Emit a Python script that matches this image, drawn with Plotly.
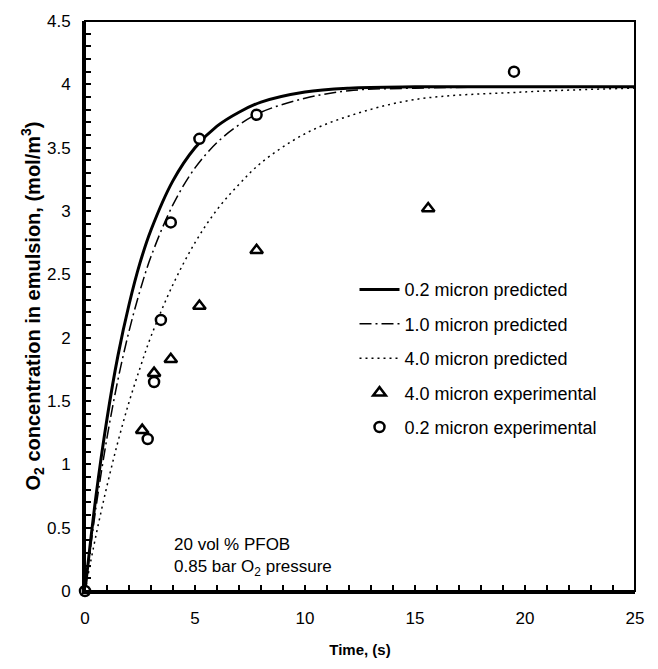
import plotly.graph_objects as go

# Time grid for model curves (s)
t_model = [0, 0.5, 1, 1.5, 2, 2.5, 3, 4, 5, 6, 7, 8, 10, 12, 15, 20, 25]
pred_02 = [0, 0.75, 1.36, 1.86, 2.26, 2.59, 2.85, 3.24, 3.50, 3.67, 3.78, 3.86, 3.94, 3.97, 3.98, 3.98, 3.98]
pred_10 = [0, 0.66, 1.21, 1.67, 2.05, 2.37, 2.64, 3.05, 3.34, 3.54, 3.68, 3.78, 3.89, 3.95, 3.97, 3.98, 3.98]
pred_40 = [0, 0.44, 0.83, 1.18, 1.49, 1.76, 2.01, 2.42, 2.75, 3.01, 3.21, 3.38, 3.61, 3.75, 3.88, 3.94, 3.97]

# Experimental data
t_exp40 = [2.6, 3.14, 3.9, 5.2, 7.8, 15.6]
c_exp40 = [1.27, 1.72, 1.83, 2.25, 2.69, 3.02]
t_exp02 = [0, 2.85, 3.14, 3.45, 3.9, 5.2, 7.8, 19.5]
c_exp02 = [0, 1.20, 1.65, 2.14, 2.91, 3.57, 3.76, 4.10]

FONT = "Arial, Liberation Sans, sans-serif"

fig = go.Figure()
fig.add_trace(go.Scatter(x=t_model, y=pred_02, mode="lines", name="0.2 micron predicted",
                         line=dict(color="black", width=3, shape="spline"), legendgroup="a"))
fig.add_trace(go.Scatter(x=t_model, y=pred_10, mode="lines", name="1.0 micron predicted",
                         line=dict(color="black", width=1.5, dash="12px,4px,2px,4px", shape="spline"), legendgroup="b"))
fig.add_trace(go.Scatter(x=t_model, y=pred_40, mode="lines", name="4.0 micron predicted",
                         line=dict(color="black", width=1.5, dash="2px,4px", shape="spline"), legendgroup="c"))
fig.add_trace(go.Scatter(x=t_exp40, y=c_exp40, mode="markers", name="4.0 micron experimental",
                         marker=dict(symbol="triangle-up", size=11, color="white", line=dict(width=2.5, color="black")),
                         legendgroup="d", cliponaxis=False))
fig.add_trace(go.Scatter(x=t_exp02, y=c_exp02, mode="markers", name="0.2 micron experimental",
                         marker=dict(symbol="circle", size=10, color="white", line=dict(width=2.5, color="black")),
                         legendgroup="e", cliponaxis=False))

fig.add_annotation(x=0.158, y=0.017, xref="paper", yref="paper", xanchor="left", yanchor="bottom",
                   text="20 vol % PFOB<br>0.85 bar O<sub>2</sub> pressure", showarrow=False, align="left",
                   font=dict(family=FONT, size=17, color="black"))

fig.add_shape(type="rect", xref="paper", yref="paper", x0=0, y0=0, x1=1, y1=1,
              line=dict(color="black", width=2))

fig.update_layout(
    width=658, height=669,
    margin=dict(l=85, r=23, t=12, b=74),
    paper_bgcolor="white", plot_bgcolor="white",
    font=dict(family=FONT, size=17, color="black"),
    showlegend=True,
    legend=dict(x=0.49, y=0.561, xanchor="left", yanchor="top", bgcolor="rgba(0,0,0,0)",
                font=dict(family=FONT, size=18), tracegroupgap=8, itemwidth=40),
)
fig.update_xaxes(range=[0, 25], dtick=5, tick0=0, showgrid=False, zeroline=False,
                 showline=True, linewidth=3, linecolor="black",
                 ticks="inside", ticklen=6, tickwidth=2, tickcolor="black",
                 minor=dict(dtick=1, ticks="inside", ticklen=6, tickwidth=2, tickcolor="black"),
                 tickfont=dict(size=17), ticklabelstandoff=10,
                 title=dict(text="<b>Time, (s)</b>", font=dict(size=15), standoff=18))
fig.update_yaxes(range=[0, 4.5], dtick=0.5, tick0=0, showgrid=False, zeroline=False,
                 showline=True, linewidth=3, linecolor="black",
                 ticks="inside", ticklen=6, tickwidth=2, tickcolor="black",
                 minor=dict(dtick=0.1, ticks="inside", ticklen=6, tickwidth=2, tickcolor="black"),
                 tickfont=dict(size=17), ticklabelstandoff=8,
                 title=dict(text="<b>O<sub>2</sub> concentration in emulsion, (mol/m<sup>3</sup>)</b>",
                            font=dict(size=20), standoff=0))

fig.write_html("out.html")
